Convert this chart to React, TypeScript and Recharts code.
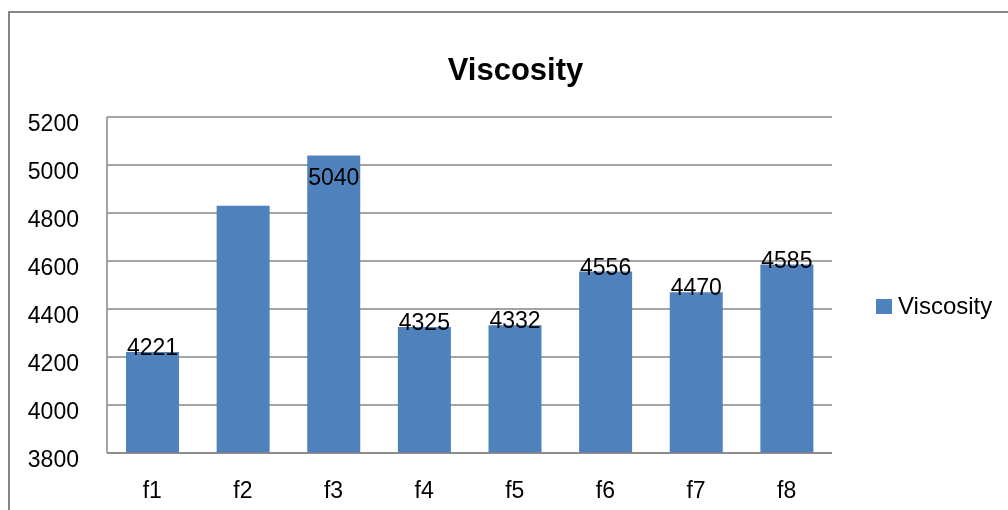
import { BarChart, Bar, XAxis, YAxis, CartesianGrid, LabelList } from 'recharts'

const categories = ['f1', 'f2', 'f3', 'f4', 'f5', 'f6', 'f7', 'f8']
const viscosity = [4221, 4830, 5040, 4325, 4332, 4556, 4470, 4585]
const valueLabels = ['4221', '', '5040', '4325', '4332', '4556', '4470', '4585']
const yTicks = [3800, 4000, 4200, 4400, 4600, 4800, 5000, 5200]

const data = categories.map((name, i) => ({ name, Viscosity: viscosity[i], label: valueLabels[i] }))

const FONT = '"Liberation Sans", Arial, sans-serif'
const BLUE = '#4F81BD'
const GRID = '#868686'

const YTick = ({ x, y, payload }: any) => (
  <text x={x} y={y} dy={14} textAnchor="end" fontSize={23} fontFamily={FONT} fill="#000">
    {payload.value}
  </text>
)

const XTick = ({ x, y, payload }: any) => (
  <text x={x} y={y} dy={37} textAnchor="middle" fontSize={23} fontFamily={FONT} fill="#000">
    {payload.value}
  </text>
)

const ValueLabel = ({ x, y, width, index }: any) => {
  const text = valueLabels[index]
  if (!text) return null
  // the top bar's label sits inside the bar, the rest sit on the bar top
  const dy = viscosity[index] > 5000 ? 30 : 3
  return (
    <text x={x + width / 2} y={y + dy} textAnchor="middle" fontSize={23} fontFamily={FONT} fill="#000">
      {text}
    </text>
  )
}

const App = () => (
  <>
    <div
      style={{
        position: 'fixed', left: 8, top: 11, width: 1000, height: 499,
        borderTop: `2px solid ${GRID}`, borderLeft: `2px solid ${GRID}`, boxSizing: 'border-box',
      }}
    />
    <div
      style={{
        position: 'fixed', left: 0, top: 52, width: 1031, textAlign: 'center',
        fontFamily: FONT, fontWeight: 'bold', fontSize: 31, color: '#000',
      }}
    >
      Viscosity
    </div>
    <div style={{ position: 'fixed', left: 0, top: 0 }}>
      <BarChart width={1008} height={510} data={data} margin={{ top: 117, right: 176, bottom: 0, left: 0 }}>
        <CartesianGrid vertical={false} stroke={GRID} strokeWidth={1.5} />
        <XAxis
          dataKey="name" height={57} tick={<XTick />} tickLine={false}
          axisLine={{ stroke: GRID, strokeWidth: 1.5 }}
        />
        <YAxis
          width={107} domain={[3800, 5200]} ticks={yTicks} interval={0} tick={<YTick />}
          tickLine={false} tickMargin={22} axisLine={{ stroke: GRID, strokeWidth: 1.5 }}
        />
        <Bar dataKey="Viscosity" fill={BLUE} barSize={53} isAnimationActive={false}>
          <LabelList dataKey="label" content={<ValueLabel />} />
        </Bar>
      </BarChart>
    </div>
    <div
      style={{
        position: 'fixed', left: 876, top: 292, display: 'flex', alignItems: 'center',
        fontFamily: FONT, fontSize: 24, color: '#000',
      }}
    >
      <span style={{ width: 16, height: 15, background: BLUE, marginRight: 6, display: 'inline-block' }} />
      Viscosity
    </div>
  </>
)

export default App
